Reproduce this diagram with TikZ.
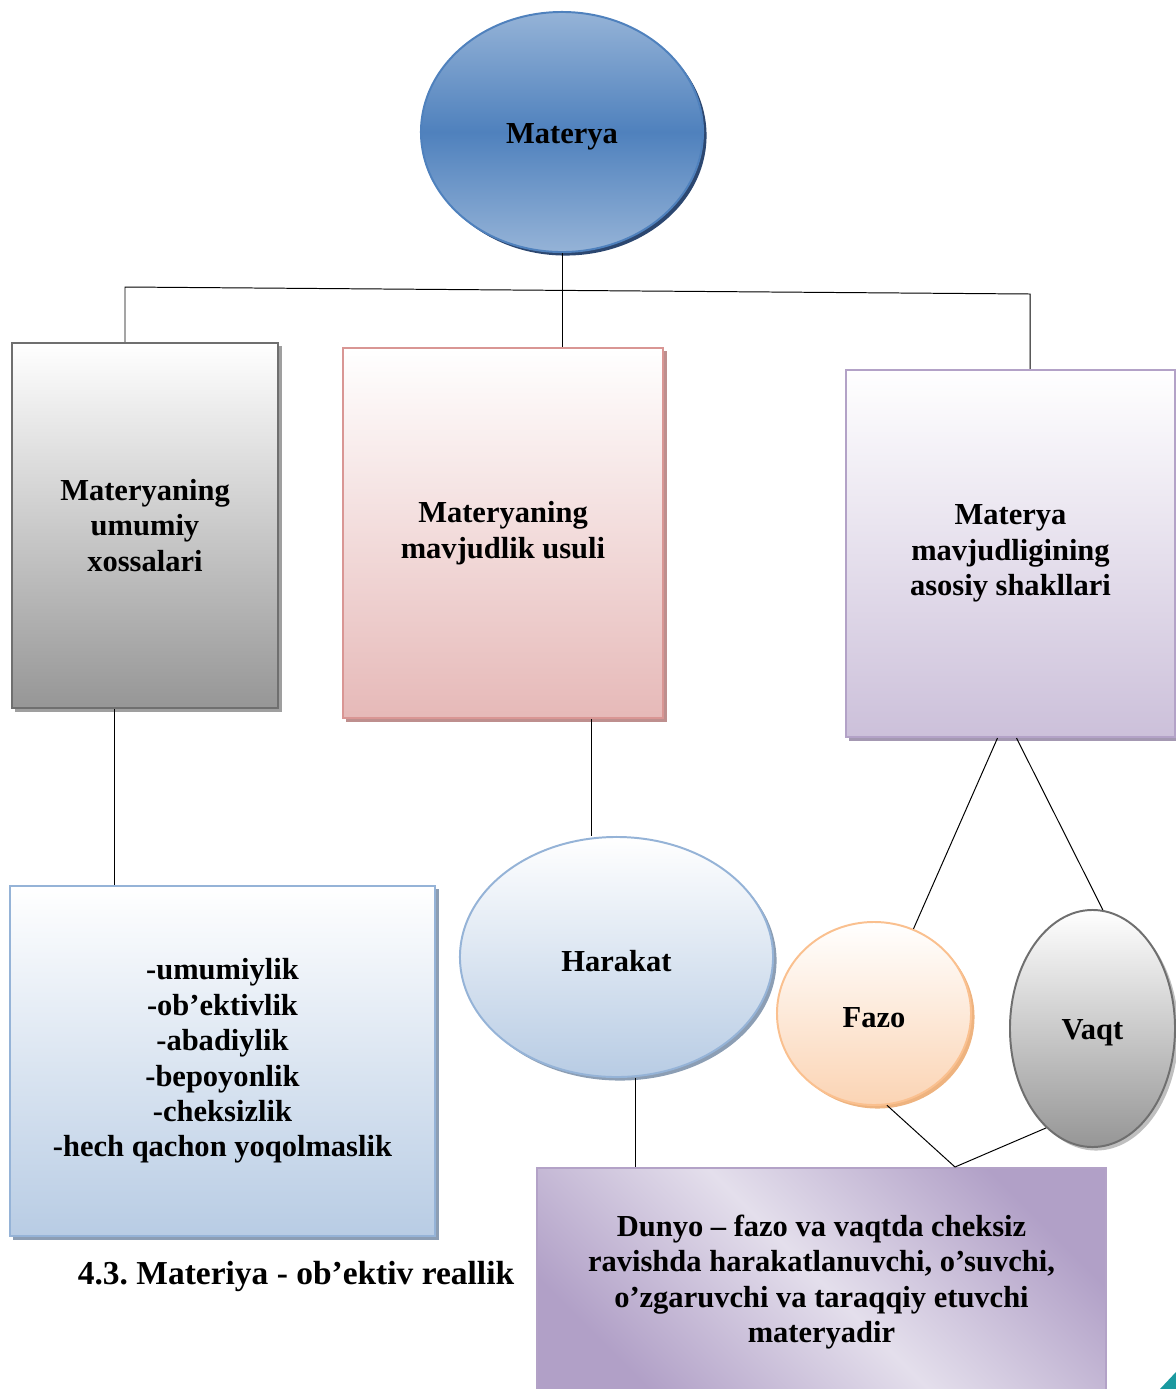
\documentclass[tikz,border=0pt]{standalone}
\usepackage{fontspec}
\setmainfont{Liberation Serif}
\usetikzlibrary{positioning, shapes.geometric, shadows, calc}
\frenchspacing

\definecolor{blueD}{HTML}{4F81BD}
\definecolor{blueL}{HTML}{95B3D7}
\definecolor{blueP}{HTML}{B8CCE4}
\definecolor{navyS}{HTML}{2C4770}
\definecolor{grayD}{HTML}{969696}
\definecolor{grayB}{HTML}{6F6F6F}
\definecolor{pinkD}{HTML}{E6B9B8}
\definecolor{pinkB}{HTML}{D99694}
\definecolor{purpD}{HTML}{B1A0C7}
\definecolor{purpL}{HTML}{E4DFEC}
\definecolor{purpP}{HTML}{CCC0DA}
\definecolor{purpB}{HTML}{B3A2C7}
\definecolor{peachD}{HTML}{FBD4B4}
\definecolor{peachB}{HTML}{FAC08F}
\definecolor{tealC}{HTML}{1A9AA0}

\begin{document}
\begin{tikzpicture}[
    x=0.025cm, y=-0.025cm,
    every node/.style={font=\bfseries\fontsize{21.7}{25.2}\selectfont, align=center, inner sep=0pt,
                       execute at begin node={\rule{0pt}{20.5pt}}},
    box/.style={rectangle, draw=#1, line width=1.4pt},
    oval/.style={ellipse, draw=#1, line width=1.4pt},
    shadowed/.style={drop shadow={shadow xshift=2.5pt, shadow yshift=-2.5pt, fill=#1, opacity=1}},
    link/.style={line width=0.7pt}
]
\useasboundingbox (0,0) rectangle (1176,1389);

% Top
\node[oval=blueD, top color=blueL, bottom color=blueL, middle color=blueD, shadowed=navyS,
      minimum width=7.05cm, minimum height=6cm] (materya) at (562,132) {Materya};

% Three main boxes
\node[box=grayB, top color=white, bottom color=grayD, shadowed=gray!75,
      minimum width=6.65cm, minimum height=9.125cm] (umumiy) at (145,525.5) {Materyaning\\umumiy\\xossalari};
\node[box=pinkB, top color=white, bottom color=pinkD, shadowed=pinkB!70!gray,
      minimum width=8cm, minimum height=9.25cm] (usul) at (503,533) {Materyaning\\mavjudlik usuli};
\node[box=purpB, top color=white, bottom color=purpP, shadowed=purpB!70!gray,
      minimum width=8.225cm, minimum height=9.175cm] (shakl) at (1010.5,553.5) {Materya\\mavjudligining\\asosiy shakllari};

% Lower level
\node[box=blueL, top color=white, bottom color=blueP, shadowed=blueL!60!gray,
      minimum width=10.625cm, minimum height=8.75cm] (xossa) at (222.5,1061)
      {-umumiylik\\-ob’ektivlik\\-abadiylik\\-bepoyonlik\\-cheksizlik\\-hech qachon yoqolmaslik};
\node[oval=blueL, top color=white, bottom color=blueP, shadowed=blueL!60!gray,
      minimum width=7.825cm, minimum height=6cm] (harakat) at (616.5,957) {Harakat};
\node[oval=peachB, top color=white, bottom color=peachD, shadowed=peachB!80!brown,
      minimum width=4.85cm, minimum height=4.575cm] (fazo) at (874,1013.5) {Fazo};
\node[oval=grayB, top color=white, bottom color=grayD, shadowed=gray!50,
      minimum width=4.125cm, minimum height=5.925cm] (vaqt) at (1092.5,1028.5) {Vaqt};
\node[box=purpB, top color=purpD, bottom color=purpD, middle color=purpL, shading angle=-45,
      minimum width=14.225cm, minimum height=5.7cm] (dunyo) at (821.5,1282)
      {Dunyo – fazo va vaqtda cheksiz\\ravishda harakatlanuvchi, o’suvchi,\\o’zgaruvchi va taraqqiy etuvchi\\materyadir};

\node[font=\bfseries\fontsize{23.8}{28}\selectfont] (title) at (296,1274) {4.3. Materiya - ob’ektiv reallik};

% Connectors
\coordinate (barL) at (125,287);
\coordinate (barR) at (1030,294);
\draw[link] (materya.south) -- (materya.south |- usul.north);
\draw[link] (barL |- umumiy.north) -- (barL) -- (barR) -- (barR |- shakl.north);

\coordinate (k1) at ($(umumiy.south)+(-31,0)$);
\draw[link] (k1) -- (k1 |- xossa.north);
\coordinate (k2) at ($(usul.south)+(88,0)$);
\draw[link] (k2) -- (k2 |- harakat.north);
\coordinate (k3) at ($(harakat.south)+(19,0)$);
\draw[link] (k3) -- (k3 |- dunyo.north);

\coordinate (k4) at ($(shakl.south)+(-13,0)$);
\coordinate (k5) at ($(shakl.south)+(6,0)$);
\draw[link] (k4) -- (fazo.65);
\draw[link] (k5) -- (vaqt.85);
\coordinate (k6) at ($(dunyo.north)+(133.5,0)$);
\draw[link] (fazo.278) -- (k6) -- (vaqt.245);

% Corner mark
\fill[tealC] (1160,1389) -- (1176,1372) -- (1176,1389) -- cycle;

\end{tikzpicture}
\end{document}
